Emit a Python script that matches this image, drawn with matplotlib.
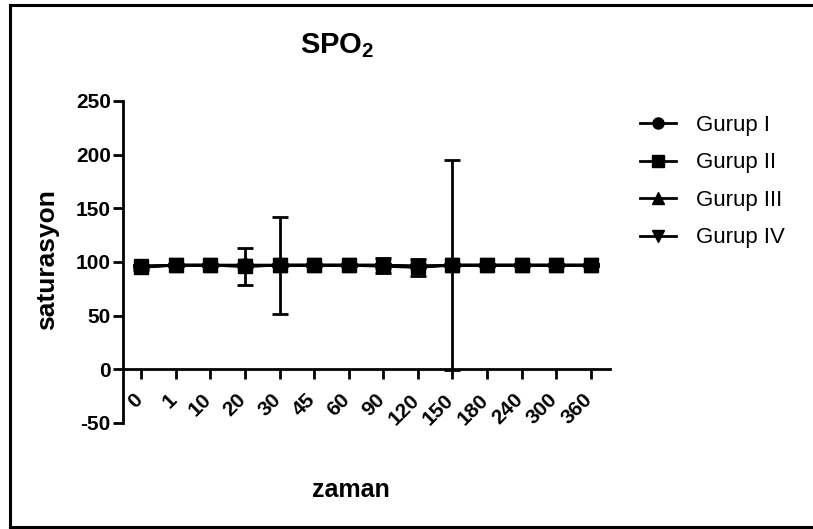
import matplotlib
matplotlib.use("Agg")
import matplotlib.pyplot as plt
from matplotlib.lines import Line2D
import matplotlib.transforms as mtransforms

plt.rcParams['font.family'] = ['Liberation Sans', 'DejaVu Sans']
plt.rcParams['mathtext.fontset'] = 'custom'
plt.rcParams['mathtext.rm'] = 'Liberation Sans:bold'
plt.rcParams['mathtext.bf'] = 'Liberation Sans:bold'
plt.rcParams['axes.unicode_minus'] = False

categories = ["0", "1", "10", "20", "30", "45", "60", "90", "120", "150", "180", "240", "300", "360"]
groups = ["Gurup I", "Gurup II", "Gurup III", "Gurup IV"]
markers = ["o", "s", "^", "v"]
yticks = [-50, 0, 50, 100, 150, 200, 250]

g1_mean = [96, 97, 97, 97, 97, 97, 97, 97, 96, 97, 97, 97, 97, 97]
g1_sd = [1, 1, 1, 1, 1, 1, 1, 1, 1, 1, 1, 1, 1, 1]
g2_mean = [95, 97, 97, 96, 97, 97, 97, 97, 96, 97, 97, 97, 97, 97]
g2_sd = [2, 1, 1, 1, 1, 1, 1, 7, 2, 1, 1, 1, 1, 1]
g3_mean = [96, 97, 97, 97, 97, 97, 97, 96, 95, 97, 97, 97, 97, 97]
g3_sd = [1, 1, 1, 1, 1, 1, 1, 2, 8, 98, 1, 1, 1, 1]
g4_mean = [96, 97, 97, 96, 97, 97, 97, 97, 96, 97, 97, 97, 97, 97]
g4_sd = [1, 1, 1, 17, 45, 1, 1, 1, 1, 1, 1, 1, 1, 1]

means = [g1_mean, g2_mean, g3_mean, g4_mean]
sds = [g1_sd, g2_sd, g3_sd, g4_sd]

fig = plt.figure(figsize=(8.13, 5.29), dpi=100)
ax = fig.add_axes([123.3 / 813, 1 - 423 / 529, (610 - 123.3) / 813, (423 - 101) / 529])

x = list(range(len(categories)))
handles = []
for name, mk, m, s in zip(groups, markers, means, sds):
    ax.errorbar(x, m, yerr=s, color='black', marker=mk, markersize=9.5,
                linewidth=2, elinewidth=2, capsize=5.5, capthick=2,
                clip_on=False)
    handles.append(Line2D([], [], color='black', marker=mk, markersize=8,
                          linewidth=2, label=name))

ax.set_ylim(-50, 250)
ax.set_xlim(-0.52, 13.56)
ax.set_yticks(yticks)
ax.set_xticks(x)

for sp in ['top', 'right']:
    ax.spines[sp].set_visible(False)
ax.spines['bottom'].set_position(('data', 0))
ax.spines['left'].set_linewidth(2)
ax.spines['bottom'].set_linewidth(2)
ax.tick_params(axis='y', direction='out', length=7, width=2, pad=2)
ax.tick_params(axis='x', direction='out', length=7, width=2, pad=8)

ax.set_xticklabels(categories, rotation=45, ha='right', fontweight='bold', fontsize=15)
ax.set_yticklabels([str(v) for v in yticks], fontweight='bold', fontsize=15)
offset = mtransforms.ScaledTranslation(5 / 100, 0, fig.dpi_scale_trans)
for lbl in ax.get_xticklabels():
    lbl.set_transform(lbl.get_transform() + offset)

fig.text(337 / 813, 1 - 46 / 529, r"SPO$_\mathbf{2}$", fontsize=21, fontweight='bold',
         ha='center', va='center')
fig.text(351 / 813, 1 - 490 / 529, "zaman", fontsize=18, fontweight='bold',
         ha='center', va='center')
fig.text(47 / 813, 1 - 260 / 529, "saturasyon", fontsize=19, fontweight='bold',
         ha='center', va='center', rotation=90)

leg = fig.legend(handles=handles, loc='upper left', bbox_to_anchor=(640 / 813, 1 - 115 / 529),
                 frameon=False, fontsize=16,
                 handlelength=1.6, handletextpad=0.9, labelspacing=0.74,
                 borderpad=0, borderaxespad=0)

# figure border (left, top, bottom)
fig.add_artist(Line2D([9.5 / 813, 1], [1 - 5 / 529, 1 - 5 / 529], color='black', lw=2.2, transform=fig.transFigure))
fig.add_artist(Line2D([9.5 / 813, 9.5 / 813], [1 - 5 / 529, 1 - 527 / 529], color='black', lw=2.2, transform=fig.transFigure))
fig.add_artist(Line2D([9.5 / 813, 1], [1 - 527 / 529, 1 - 527 / 529], color='black', lw=2.2, transform=fig.transFigure))

fig.savefig("out.png", dpi=100)
